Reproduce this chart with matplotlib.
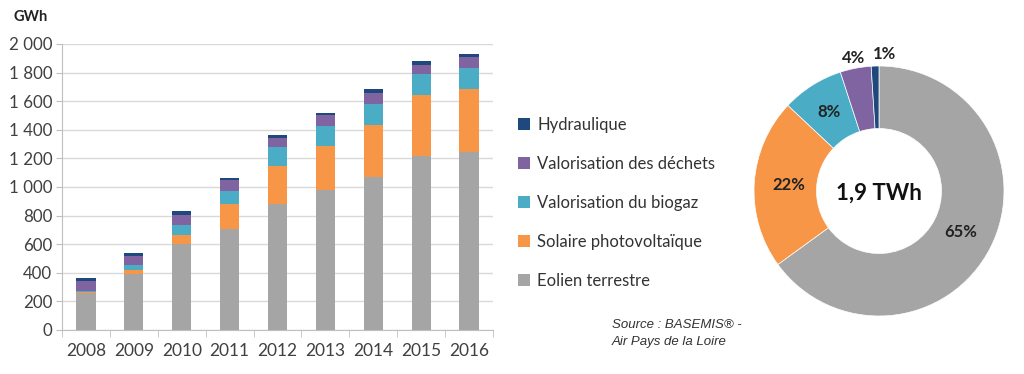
import matplotlib.pyplot as plt
import numpy as np
from matplotlib.patches import Patch

annees = ["2008", "2009", "2010", "2011", "2012", "2013", "2014", "2015", "2016"]

# GWh par filière (lecture du graphique)
eolien = [262, 395, 600, 705, 882, 980, 1073, 1220, 1248]
solaire = [3, 25, 65, 177, 268, 308, 364, 425, 434]
biogaz = [5, 33, 70, 93, 133, 142, 145, 142, 147]
dechets = [73, 67, 70, 75, 63, 73, 77, 68, 77]
hydro = [23, 21, 26, 16, 21, 14, 23, 23, 24]

filieres = ["Eolien terrestre", "Solaire photovoltaïque", "Valorisation du biogaz",
            "Valorisation des déchets", "Hydraulique"]
couleurs = ["#A5A5A5", "#F79646", "#4BACC6", "#8064A2", "#1F497D"]

# répartition 2016 (%)
parts_2016 = [65, 22, 8, 4, 1]
total_label = "1,9 TWh"

plt.rcParams['font.family'] = ['Lato', 'DejaVu Sans']
texte = "#404040"

W, H = 1024, 374
fig = plt.figure(figsize=(W / 100, H / 100), dpi=100)

# --- barres empilées ---
ax = fig.add_axes([62 / W, (H - 330) / H, 431 / W, 286 / H])
x = np.arange(len(annees))
bas = np.zeros(len(annees))
for serie, c in zip([eolien, solaire, biogaz, dechets, hydro], couleurs):
    ax.bar(x, serie, width=0.4, bottom=bas, color=c, zorder=3)
    bas += np.array(serie)

ax.set_xlim(-0.5, len(annees) - 0.5)
ax.set_ylim(0, 2000)
yt = np.arange(0, 2001, 200)
ax.set_yticks(yt)
ax.set_yticklabels([f"{v:,}".replace(",", " ") for v in yt], fontsize=12.2, color=texte)
ax.set_xticks(x)
ax.set_xticklabels(annees, fontsize=12.5, color=texte)
ax.set_xticks(np.arange(-0.5, len(annees)), minor=True)
ax.tick_params(axis='x', which='major', length=0, pad=9)
ax.tick_params(axis='x', which='minor', length=5, color="#BFBFBF")
ax.tick_params(axis='y', length=4, color="#BFBFBF", pad=3)
ax.grid(axis='y', color="#D9D9D9", linewidth=1, zorder=0)
for s in ["top", "right"]:
    ax.spines[s].set_visible(False)
for s in ["left", "bottom"]:
    ax.spines[s].set_color("#BFBFBF")
fig.text(14 / W, 1 - 17 / H, "GWh", fontsize=10.5, fontweight='bold', color="#222222",
         va='center')

# --- légende ---
poignees = [Patch(facecolor=c, label=f) for f, c in zip(filieres, couleurs)][::-1]
fig.legend(handles=poignees, loc='center left', bbox_to_anchor=(503 / W, 1 - 203 / H),
           frameon=False, fontsize=12, labelcolor="#333333", handlelength=0.7,
           handleheight=0.7, handletextpad=0.45, labelspacing=1.38)

# --- source ---
fig.text(612 / W, 1 - 325 / H, "Source : BASEMIS® -", fontsize=9.5, style='italic',
         family='Liberation Sans', color="#333333", va='center')
fig.text(612 / W, 1 - 342 / H, "Air Pays de la Loire", fontsize=9.5, style='italic',
         family='Liberation Sans', color="#333333", va='center')

# --- anneau 2016 ---
cx, cy, R = 879, 191, 125
lim = 1.3
taille = 2 * lim * R
axp = fig.add_axes([(cx - taille / 2) / W, (H - cy - taille / 2) / H, taille / W, taille / H])
wedges, _ = axp.pie(parts_2016, colors=couleurs, startangle=90, counterclock=False,
                    wedgeprops=dict(width=0.5, edgecolor='white', linewidth=0.5))
axp.set_xlim(-lim, lim)
axp.set_ylim(-lim, lim)
axp.set_aspect('equal')
dist = [0.73, 0.72, 0.745, 1.08, 1.1]
for w, p, d in zip(wedges, parts_2016, dist):
    ang = np.deg2rad((w.theta1 + w.theta2) / 2)
    if p == 1:
        ang -= np.deg2rad(4)
    axp.text(d * np.cos(ang), d * np.sin(ang), f"{p}%", ha='center', va='center',
             fontsize=12, fontweight='bold', color="#222222")
axp.text(0, -0.02, total_label, ha='center', va='center', fontsize=16,
         fontweight='bold', color="#111111")

fig.savefig("out.png", dpi=100)
